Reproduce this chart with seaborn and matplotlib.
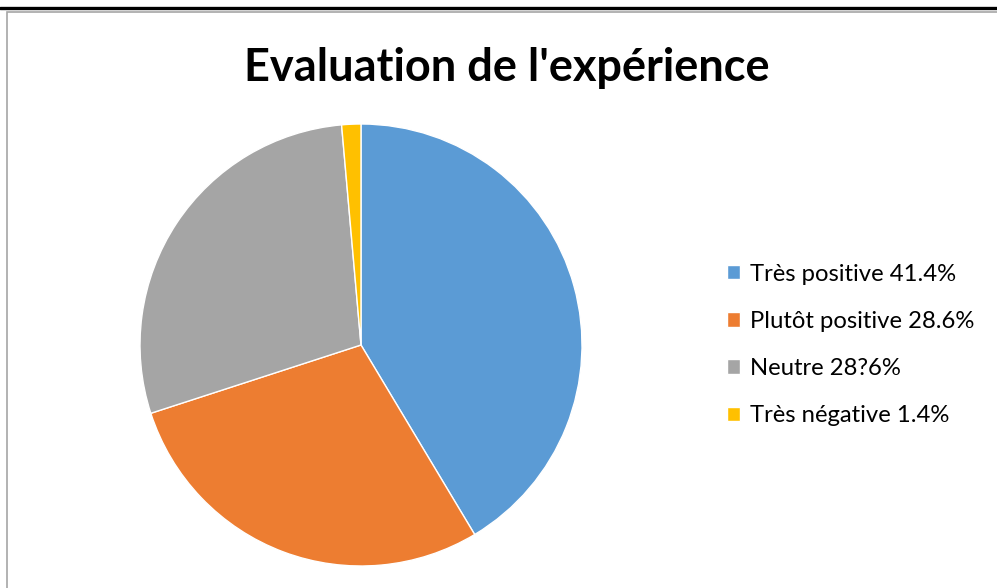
import matplotlib
matplotlib.use("Agg")
import matplotlib.pyplot as plt
import seaborn as sns
from matplotlib.lines import Line2D
from matplotlib.patches import Rectangle

sns.set_theme(style="white")
plt.rcParams['font.family'] = ['Lato', 'DejaVu Sans']

title = "Evaluation de l'expérience"
categories = ["Très positive 41.4%", "Plutôt positive 28.6%", "Neutre 28?6%", "Très négative 1.4%"]
values = [41.4, 28.6, 28.6, 1.4]
colors = ["#5B9BD5", "#ED7D31", "#A5A5A5", "#FFC000"]

W, H = 997, 588
fig = plt.figure(figsize=(W / 100, H / 100), dpi=100)
fig.patch.set_facecolor("white")

# top black rule and grey chart frame
fig.add_artist(Line2D([0, 1], [1 - 8 / H, 1 - 8 / H], color="black", lw=2.4, transform=fig.transFigure))
fig.add_artist(Rectangle((7 / W, -0.05), 1.2, 1 - 12 / H + 0.05, transform=fig.transFigure,
                         fill=False, edgecolor="#A6A6A6", lw=1.2))

r = 221
cx, cy = 361, 345
ax = fig.add_axes([(cx - r) / W, 1 - (cy + r) / H, 2 * r / W, 2 * r / H])
wedges, _ = ax.pie(values, colors=colors, startangle=90, counterclock=False,
                   wedgeprops=dict(edgecolor="white", linewidth=1.0))
ax.set_aspect("equal")
ax.set_xlim(-1, 1)
ax.set_ylim(-1, 1)
ax.axis("off")

fig.text(507 / W, 1 - 68 / H, title, ha="center", va="center", fontsize=32.5, fontweight="bold", color="#000000")

leg = fig.legend(wedges, categories, loc="center left", bbox_to_anchor=(727 / W, 1 - 345 / H),
                 frameon=False, fontsize=17.2, handlelength=0.55, handleheight=0.55,
                 handletextpad=0.4, labelspacing=1.1, borderaxespad=0, borderpad=0)
for t in leg.get_texts():
    t.set_color("#000000")

fig.savefig("out.png", dpi=100)
